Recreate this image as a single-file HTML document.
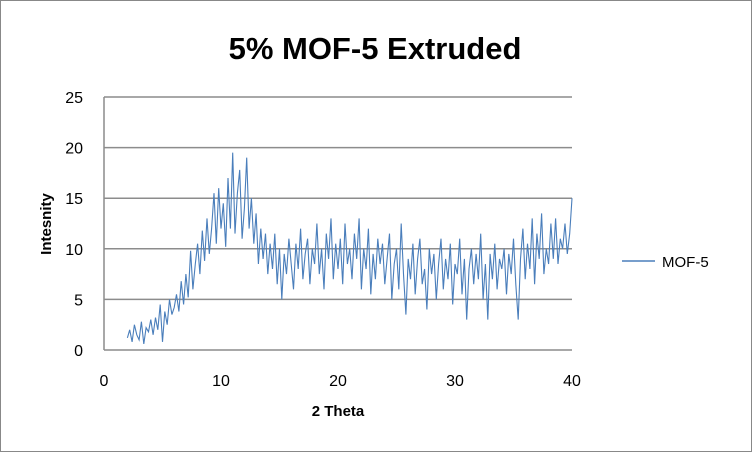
<!DOCTYPE html>
<html><head><meta charset="utf-8"><style>
body{margin:0;background:#fff;}
#wrap{position:relative;width:752px;height:452px;}
svg text{font-family:"Liberation Sans",sans-serif;}
</style></head><body>
<div id="wrap">
<svg id="chart" width="752" height="452">
<rect x="0.5" y="0.5" width="751" height="451" fill="#fff" stroke="#888"/>
<text x="375" y="59" font-size="31" font-weight="bold" text-anchor="middle">5% MOF-5 Extruded</text>
<text x="338" y="416" font-size="15" font-weight="bold" text-anchor="middle">2 Theta</text>
<text transform="translate(51,224) rotate(-90)" font-size="15" font-weight="bold" text-anchor="middle">Intesnity</text>
<g id="grid"></g><g id="ticks"></g>
<polyline id="series" fill="none" stroke="#4a7ebb" stroke-width="1.1"/>
<line x1="622" y1="261" x2="655" y2="261" stroke="#4a7ebb" stroke-width="1.5"/>
<text x="662" y="267" font-size="15">MOF-5</text>
</svg></div>
<script>
const xTicks=[0,10,20,30,40];
const yTicks=[0,5,10,15,20,25];
const xStart=2, xStep=0.2;
const intensity=[1.2,2.0,0.8,2.5,1.5,1.0,2.8,0.6,2.2,1.8,3.0,
1.5,3.2,2.0,4.5,0.8,3.8,2.5,5.0,3.5,4.2,
5.5,3.8,6.8,4.5,7.5,5.2,9.8,6.0,8.5,10.5,
7.5,11.8,8.8,13.0,9.5,12.0,15.5,10.5,16.0,12.0,
14.5,10.2,17.0,12.0,19.5,11.5,15.5,17.8,11.0,14.0,
19.0,12.0,15.0,10.5,13.5,8.5,12.0,9.0,11.5,7.5,
10.5,8.0,11.5,6.5,10.0,5.0,9.5,7.5,11.0,8.5,
6.0,10.5,8.0,12.0,7.0,9.5,11.0,6.5,10.0,8.5,
12.5,7.5,10.0,6.0,11.5,9.0,13.0,7.0,10.5,8.0,
11.0,6.5,12.5,8.5,10.0,7.0,11.5,9.0,13.0,6.0,
10.0,8.0,12.0,5.5,9.5,7.0,11.0,8.5,10.5,6.5,
9.0,11.5,5.0,8.5,10.0,6.0,12.5,7.5,3.5,9.0,
7.0,10.5,5.5,9.0,11.0,6.5,8.0,4.0,10.0,7.5,
9.5,5.0,8.5,11.0,6.0,9.0,7.0,10.5,4.5,8.5,
7.5,11.0,5.5,9.0,3.0,8.0,10.0,6.5,9.5,7.0,
11.5,5.0,8.5,3.0,9.5,7.0,10.5,6.0,9.0,8.0,
10.0,5.5,9.5,7.5,11.0,6.5,3.0,9.0,12.0,7.0,
10.5,8.0,13.0,6.5,11.5,9.0,13.5,7.5,10.0,8.5,
12.5,9.0,13.0,8.5,11.0,10.0,12.5,9.5,11.5,15.0];
const X0=104,X1=572,Y0=350,Y1=97;
const sx=v=>X0+(v-0)/(40-0)*(X1-X0);
const sy=v=>Y0-(v-0)/(25-0)*(Y0-Y1);
const NS="http://www.w3.org/2000/svg";
const grid=document.getElementById('grid'),ticks=document.getElementById('ticks');
yTicks.forEach(t=>{
 const l=document.createElementNS(NS,'line');
 l.setAttribute('x1',X0);l.setAttribute('x2',X1);l.setAttribute('y1',sy(t));l.setAttribute('y2',sy(t));
 l.setAttribute('stroke','#8c8c8c');l.setAttribute('stroke-width','1.5');
 
 
 grid.appendChild(l);
 const tx=document.createElementNS(NS,'text');
 tx.setAttribute('x',83);tx.setAttribute('y',sy(t)+6);tx.setAttribute('font-size','16');tx.setAttribute('text-anchor','end');
 tx.textContent=t;
 
 
 ticks.appendChild(tx);
});
const ax=document.createElementNS(NS,'line');
ax.setAttribute('x1',X0);ax.setAttribute('x2',X0);ax.setAttribute('y1',Y1);ax.setAttribute('y2',Y0);
ax.setAttribute('stroke','#8c8c8c');ax.setAttribute('stroke-width','1.5');


grid.appendChild(ax);
xTicks.forEach(t=>{
 const tx=document.createElementNS(NS,'text');
 tx.setAttribute('x',sx(t));tx.setAttribute('y',386);tx.setAttribute('font-size','16');tx.setAttribute('text-anchor','middle');
 tx.textContent=t;
 
 
 ticks.appendChild(tx);
});
document.getElementById('series').setAttribute('points',intensity.map((v,i)=>sx(xStart+i*xStep).toFixed(1)+','+sy(v).toFixed(1)).join(' '));
</script>
</body></html>
